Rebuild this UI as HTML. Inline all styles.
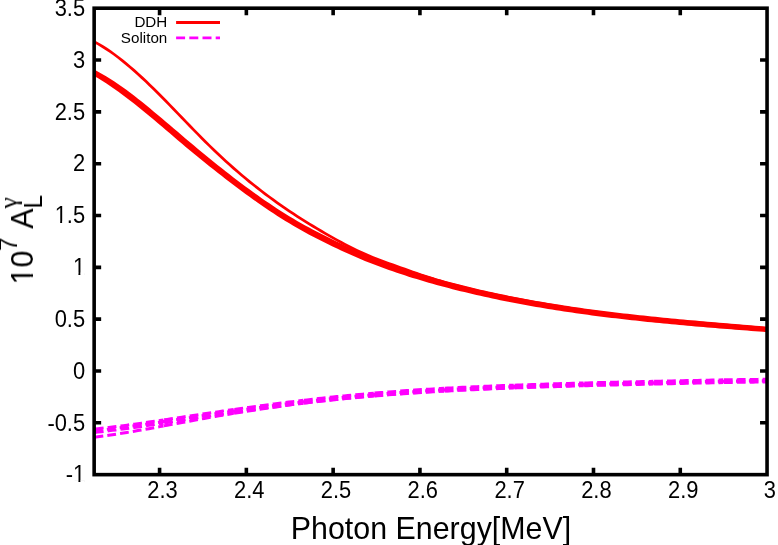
<!DOCTYPE html>
<html><head><meta charset="utf-8"><title>plot</title>
<style>html,body{margin:0;padding:0;background:#fff;}svg{display:block;will-change:transform;}text{font-family:"Liberation Sans",sans-serif;fill:#000;}</style></head><body>
<svg width="778" height="545" viewBox="0 0 778 545">
<rect x="0" y="0" width="778" height="545" fill="#fff"/>
<defs><clipPath id="c"><rect x="94.15" y="8.2" width="672.9" height="466.45"/></clipPath></defs>
<g clip-path="url(#c)" fill="none" stroke-linejoin="round">
<path d="M94.15,41.73 L98.13,43.90 L102.11,46.24 L106.09,48.75 L110.08,51.43 L114.06,54.25 L118.04,57.23 L122.02,60.34 L126.00,63.57 L129.98,66.93 L133.97,70.40 L137.95,73.96 L141.93,77.63 L145.91,81.37 L149.89,85.20 L153.87,89.09 L157.86,93.04 L161.84,97.04 L165.82,101.08 L169.80,105.16 L173.78,109.26 L177.76,113.38 L181.75,117.50 L185.73,121.62 L189.71,125.74 L193.69,129.84 L197.67,133.91 L201.65,137.94 L205.64,141.94 L209.62,145.88 L213.60,149.75 L217.58,153.56 L221.56,157.30 L225.54,160.97 L229.53,164.57 L233.51,168.10 L237.49,171.57 L241.47,174.97 L245.45,178.30 L249.43,181.57 L253.42,184.78 L257.40,187.93 L261.38,191.02 L265.36,194.05 L269.34,197.02 L273.32,199.93 L277.31,202.79 L281.29,205.60 L285.27,208.36 L289.25,211.06 L293.23,213.71 L297.21,216.32 L301.20,218.87 L305.18,221.39 L309.16,223.86 L313.14,226.29 L317.12,228.68 L321.10,231.03 L325.09,233.35 L329.07,235.64 L333.05,237.89 L337.03,240.11 L341.01,242.29 L344.99,244.42 L348.98,246.50 L352.96,248.51 L356.94,250.44 L360.92,252.30 L364.90,254.07 L368.88,255.77 L372.87,257.40 L376.85,258.98 L380.83,260.50 L384.81,261.99 L388.79,263.44 L392.77,264.87 L396.76,266.29 L400.74,267.70 L404.72,269.12 L408.70,270.53 L412.68,271.93 L416.66,273.32 L420.65,274.69 L424.63,276.05 L428.61,277.38 L432.59,278.67 L436.57,279.94 L440.55,281.16 L444.54,282.35 L448.52,283.49 L452.50,284.60 L456.48,285.67 L460.46,286.70 L464.44,287.71 L468.43,288.69 L472.41,289.64 L476.39,290.56 L480.37,291.47 L484.35,292.35 L488.33,293.22 L492.32,294.07 L496.30,294.91 L500.28,295.73 L504.26,296.54 L508.24,297.34 L512.22,298.12 L516.21,298.90 L520.19,299.66 L524.17,300.40 L528.15,301.14 L532.13,301.86 L536.11,302.57 L540.10,303.27 L544.08,303.96 L548.06,304.64 L552.04,305.31 L556.02,305.96 L560.00,306.61 L563.99,307.25 L567.97,307.87 L571.95,308.49 L575.93,309.09 L579.91,309.69 L583.89,310.27 L587.88,310.85 L591.86,311.42 L595.84,311.98 L599.82,312.53 L603.80,313.07 L607.78,313.60 L611.77,314.12 L615.75,314.64 L619.73,315.14 L623.71,315.64 L627.69,316.13 L631.67,316.61 L635.66,317.08 L639.64,317.55 L643.62,318.01 L647.60,318.46 L651.58,318.90 L655.56,319.34 L659.55,319.77 L663.53,320.19 L667.51,320.61 L671.49,321.02 L675.47,321.42 L679.45,321.81 L683.44,322.20 L687.42,322.59 L691.40,322.96 L695.38,323.33 L699.36,323.70 L703.34,324.06 L707.33,324.41 L711.31,324.76 L715.29,325.10 L719.27,325.44 L723.25,325.77 L727.23,326.10 L731.22,326.42 L735.20,326.74 L739.18,327.05 L743.16,327.36 L747.14,327.66 L751.12,327.96 L755.11,328.26 L759.09,328.55 L763.07,328.84 L767.05,329.13" stroke="#ff0000" stroke-width="2.75"/>
<path d="M94.15,69.60 L98.13,71.69 L102.11,73.91 L106.09,76.25 L110.08,78.70 L114.06,81.25 L118.04,83.90 L122.02,86.63 L126.00,89.48 L129.98,92.47 L133.97,95.53 L137.95,98.66 L141.93,101.84 L145.91,105.07 L149.89,108.34 L153.87,111.65 L157.86,114.99 L161.84,118.35 L165.82,121.72 L169.80,125.11 L173.78,128.49 L177.76,131.87 L181.75,135.26 L185.73,138.65 L189.71,142.02 L193.69,145.36 L197.67,148.69 L201.65,151.99 L205.64,155.26 L209.62,158.51 L213.60,161.74 L217.58,164.93 L221.56,168.10 L225.54,171.24 L229.53,174.34 L233.51,177.42 L237.49,180.46 L241.47,183.46 L245.45,186.43 L249.43,189.37 L253.42,192.25 L257.40,195.10 L261.38,197.90 L265.36,200.66 L269.34,203.37 L273.32,206.03 L277.31,208.65 L281.29,211.21 L285.27,213.71 L289.25,216.16 L293.23,218.55 L297.21,220.88 L301.20,223.16 L305.18,225.39 L309.16,227.57 L313.14,229.70 L317.12,231.79 L321.10,233.84 L325.09,235.85 L329.07,237.83 L333.05,239.77 L337.03,241.69 L341.01,243.57 L344.99,245.41 L348.98,247.23 L352.96,249.00 L356.94,250.74 L360.92,252.44 L364.90,254.10 L368.88,255.72 L372.87,257.31 L376.85,258.86 L380.83,260.38 L384.81,261.86 L388.79,263.31 L392.77,264.72 L396.76,266.11 L400.74,267.46 L404.72,268.79 L408.70,270.09 L412.68,271.36 L416.66,272.61 L420.65,273.83 L424.63,275.02 L428.61,276.20 L432.59,277.35 L436.57,278.48 L440.55,279.58 L444.54,280.67 L448.52,281.74 L452.50,282.80 L456.48,283.83 L460.46,284.84 L464.44,285.84 L468.43,286.82 L472.41,287.78 L476.39,288.72 L480.37,289.65 L484.35,290.56 L488.33,291.45 L492.32,292.33 L496.30,293.19 L500.28,294.03 L504.26,294.85 L508.24,295.66 L512.22,296.45 L516.21,297.23 L520.19,297.99 L524.17,298.74 L528.15,299.47 L532.13,300.19 L536.11,300.90 L540.10,301.59 L544.08,302.27 L548.06,302.93 L552.04,303.59 L556.02,304.23 L560.00,304.85 L563.99,305.47 L567.97,306.07 L571.95,306.67 L575.93,307.25 L579.91,307.82 L583.89,308.38 L587.88,308.93 L591.86,309.47 L595.84,309.99 L599.82,310.51 L603.80,311.02 L607.78,311.52 L611.77,312.01 L615.75,312.49 L619.73,312.96 L623.71,313.42 L627.69,313.87 L631.67,314.32 L635.66,314.76 L639.64,315.19 L643.62,315.62 L647.60,316.03 L651.58,316.44 L655.56,316.85 L659.55,317.25 L663.53,317.64 L667.51,318.03 L671.49,318.41 L675.47,318.78 L679.45,319.16 L683.44,319.52 L687.42,319.88 L691.40,320.24 L695.38,320.59 L699.36,320.94 L703.34,321.30 L707.33,321.65 L711.31,321.99 L715.29,322.34 L719.27,322.68 L723.25,323.02 L727.23,323.36 L731.22,323.69 L735.20,324.03 L739.18,324.36 L743.16,324.69 L747.14,325.02 L751.12,325.35 L755.11,325.68 L759.09,326.01 L763.07,326.34 L767.05,326.67 L767.05,332.18 L763.07,331.87 L759.09,331.55 L755.11,331.24 L751.12,330.93 L747.14,330.61 L743.16,330.30 L739.18,329.99 L735.20,329.67 L731.22,329.36 L727.23,329.04 L723.25,328.72 L719.27,328.40 L715.29,328.07 L711.31,327.74 L707.33,327.41 L703.34,327.08 L699.36,326.75 L695.38,326.40 L691.40,326.05 L687.42,325.70 L683.44,325.34 L679.45,324.98 L675.47,324.61 L671.49,324.24 L667.51,323.86 L663.53,323.48 L659.55,323.09 L655.56,322.69 L651.58,322.29 L647.60,321.89 L643.62,321.47 L639.64,321.05 L635.66,320.62 L631.67,320.19 L627.69,319.75 L623.71,319.30 L619.73,318.84 L615.75,318.37 L611.77,317.89 L607.78,317.41 L603.80,316.92 L599.82,316.41 L595.84,315.90 L591.86,315.38 L587.88,314.85 L583.89,314.31 L579.91,313.76 L575.93,313.20 L571.95,312.62 L567.97,312.04 L563.99,311.44 L560.00,310.83 L556.02,310.21 L552.04,309.58 L548.06,308.94 L544.08,308.28 L540.10,307.61 L536.11,306.92 L532.13,306.23 L528.15,305.52 L524.17,304.79 L520.19,304.05 L516.21,303.30 L512.22,302.53 L508.24,301.74 L504.26,300.95 L500.28,300.13 L496.30,299.31 L492.32,298.47 L488.33,297.61 L484.35,296.74 L480.37,295.85 L476.39,294.94 L472.41,294.02 L468.43,293.08 L464.44,292.12 L460.46,291.14 L456.48,290.15 L452.50,289.13 L448.52,288.10 L444.54,287.05 L440.55,285.98 L436.57,284.89 L432.59,283.78 L428.61,282.65 L424.63,281.50 L420.65,280.32 L416.66,279.12 L412.68,277.90 L408.70,276.65 L404.72,275.37 L400.74,274.06 L396.76,272.72 L392.77,271.36 L388.79,269.96 L384.81,268.53 L380.83,267.07 L376.85,265.58 L372.87,264.05 L368.88,262.48 L364.90,260.88 L360.92,259.24 L356.94,257.56 L352.96,255.84 L348.98,254.09 L344.99,252.30 L341.01,250.48 L337.03,248.62 L333.05,246.73 L329.07,244.81 L325.09,242.85 L321.10,240.86 L317.12,238.84 L313.14,236.77 L309.16,234.66 L305.18,232.50 L301.20,230.30 L297.21,228.04 L293.23,225.73 L289.25,223.36 L285.27,220.93 L281.29,218.45 L277.31,215.91 L273.32,213.32 L269.34,210.67 L265.36,207.98 L261.38,205.24 L257.40,202.46 L253.42,199.64 L249.43,196.78 L245.45,193.89 L241.47,190.97 L237.49,188.02 L233.51,185.03 L229.53,182.00 L225.54,178.95 L221.56,175.86 L217.58,172.75 L213.60,169.61 L209.62,166.43 L205.64,163.23 L201.65,160.01 L197.67,156.76 L193.69,153.49 L189.71,150.19 L185.73,146.88 L181.75,143.54 L177.76,140.16 L173.78,136.76 L169.80,133.35 L165.82,129.94 L161.84,126.55 L157.86,123.16 L153.87,119.80 L149.89,116.47 L145.91,113.18 L141.93,109.93 L137.95,106.73 L133.97,103.58 L129.98,100.50 L126.00,97.48 L122.02,94.48 L118.04,91.54 L114.06,88.68 L110.08,85.93 L106.09,83.27 L102.11,80.73 L98.13,78.31 L94.15,76.01Z" fill="#ff0000" stroke="none"/>
<path d="M94.15,429.11 L97.80,428.72 L101.45,428.31 L105.10,427.89 L108.75,427.47 L112.40,427.02 L116.05,426.57 L119.70,426.11 L123.35,425.64 L127.00,425.15 L130.65,424.66 L134.30,424.17 L137.95,423.66 L141.60,423.15 L145.25,422.63 L148.90,422.10 L152.55,421.57 L156.20,421.04 L159.85,420.50 L163.50,419.96 M163.50,419.96 L167.19,419.40 L170.89,418.85 L174.58,418.29 L178.28,417.73 L181.97,417.17 L185.67,416.60 L189.36,416.04 L193.06,415.47 L196.75,414.91 L200.45,414.35 L204.14,413.80 L207.84,413.25 L211.53,412.70 L215.23,412.16 L218.92,411.62 L222.62,411.08 L226.31,410.54 L230.01,410.00 L233.70,409.47 M233.70,409.47 L237.36,408.95 L241.03,408.43 L244.69,407.91 L248.35,407.40 L252.02,406.89 L255.68,406.38 L259.34,405.88 L263.01,405.39 L266.67,404.90 L270.33,404.42 L273.99,403.94 L277.66,403.46 L281.32,402.99 L284.98,402.53 L288.65,402.07 L292.31,401.62 L295.97,401.18 L299.64,400.74 L303.30,400.30 M303.30,400.30 L307.01,399.87 L310.72,399.44 L314.43,399.01 L318.14,398.60 L321.85,398.19 L325.56,397.78 L329.27,397.39 L332.98,397.00 L336.69,396.61 L340.41,396.24 L344.12,395.87 L347.83,395.51 L351.54,395.15 L355.25,394.80 L358.96,394.46 L362.67,394.12 L366.38,393.79 L370.09,393.47 L373.80,393.15 M373.80,393.15 L377.49,392.84 L381.19,392.54 L384.88,392.24 L388.58,391.95 L392.27,391.67 L395.97,391.39 L399.66,391.12 L403.36,390.85 L407.05,390.59 L410.75,390.34 L414.44,390.09 L418.14,389.85 L421.83,389.61 L425.53,389.38 L429.22,389.15 L432.92,388.93 L436.61,388.72 L440.31,388.50 L444.00,388.30 M444.00,388.30 L447.67,388.10 L451.35,387.90 L455.02,387.71 L458.69,387.53 L462.37,387.34 L466.04,387.17 L469.72,386.99 L473.39,386.82 L477.06,386.65 L480.74,386.49 L484.41,386.33 L488.08,386.18 L491.76,386.03 L495.43,385.88 L499.11,385.73 L502.78,385.59 L506.45,385.45 L510.13,385.31 L513.80,385.18 M513.80,385.18 L517.47,385.05 L521.15,384.92 L524.82,384.79 L528.49,384.66 L532.17,384.54 L535.84,384.42 L539.52,384.30 L543.19,384.18 L546.86,384.07 L550.54,383.95 L554.21,383.84 L557.88,383.73 L561.56,383.62 L565.23,383.51 L568.91,383.40 L572.58,383.30 L576.25,383.19 L579.93,383.09 L583.60,382.98 M583.60,382.98 L587.27,382.88 L590.95,382.78 L594.62,382.68 L598.29,382.57 L601.97,382.48 L605.64,382.39 L609.32,382.31 L612.99,382.22 L616.66,382.14 L620.34,382.06 L624.01,381.97 L627.68,381.89 L631.36,381.80 L635.03,381.72 L638.71,381.64 L642.38,381.56 L646.05,381.47 L649.73,381.39 L653.40,381.31 M653.40,381.31 L657.07,381.23 L660.75,381.15 L664.42,381.07 L668.09,380.99 L671.77,380.91 L675.44,380.83 L679.12,380.75 L682.79,380.68 L686.46,380.60 L690.14,380.53 L693.81,380.45 L697.48,380.38 L701.16,380.31 L704.83,380.23 L708.51,380.15 L712.18,380.08 L715.85,380.00 L719.53,379.93 L723.20,379.86 M723.20,379.86 L725.51,379.82 L727.82,379.78 L730.12,379.74 L732.43,379.70 L734.74,379.67 L737.05,379.63 L739.36,379.60 L741.66,379.56 L743.97,379.53 L746.28,379.50 L748.59,379.47 L750.89,379.45 L753.20,379.42 L755.51,379.40 L757.82,379.38 L760.13,379.36 L762.43,379.34 L764.74,379.33 L767.05,379.31" stroke="#ff00ff" stroke-width="3" stroke-dasharray="8.8 4.1" stroke-dashoffset="-0.7"/>
<path d="M94.15,430.81 L97.80,430.41 L101.45,430.00 L105.10,429.58 L108.75,429.15 L112.40,428.70 L116.05,428.25 L119.70,427.78 L123.35,427.30 L127.00,426.81 L130.65,426.32 L134.30,425.82 L137.95,425.31 L141.60,424.79 L145.25,424.27 L148.90,423.74 L152.55,423.20 L156.20,422.66 L159.85,422.12 L163.50,421.57 M163.50,421.57 L167.19,421.01 L170.89,420.45 L174.58,419.89 L178.28,419.33 L181.97,418.76 L185.67,418.19 L189.36,417.62 L193.06,417.05 L196.75,416.49 L200.45,415.92 L204.14,415.36 L207.84,414.81 L211.53,414.26 L215.23,413.71 L218.92,413.16 L222.62,412.62 L226.31,412.08 L230.01,411.54 L233.70,411.00 M233.70,411.00 L237.36,410.47 L241.03,409.95 L244.69,409.43 L248.35,408.91 L252.02,408.40 L255.68,407.89 L259.34,407.38 L263.01,406.88 L266.67,406.39 L270.33,405.90 L273.99,405.42 L277.66,404.94 L281.32,404.47 L284.98,404.00 L288.65,403.54 L292.31,403.08 L295.97,402.63 L299.64,402.19 L303.30,401.75 M303.30,401.75 L307.01,401.32 L310.72,400.89 L314.43,400.46 L318.14,400.04 L321.85,399.63 L325.56,399.23 L329.27,398.83 L332.98,398.44 L336.69,398.06 L340.41,397.68 L344.12,397.31 L347.83,396.95 L351.54,396.59 L355.25,396.24 L358.96,395.89 L362.67,395.56 L366.38,395.23 L370.09,394.90 L373.80,394.58 M373.80,394.58 L377.49,394.27 L381.19,393.97 L384.88,393.67 L388.58,393.38 L392.27,393.10 L395.97,392.82 L399.66,392.55 L403.36,392.28 L407.05,392.02 L410.75,391.76 L414.44,391.52 L418.14,391.27 L421.83,391.03 L425.53,390.80 L429.22,390.57 L432.92,390.35 L436.61,390.14 L440.31,389.92 L444.00,389.72 M444.00,389.72 L447.67,389.52 L451.35,389.32 L455.02,389.13 L458.69,388.94 L462.37,388.76 L466.04,388.58 L469.72,388.40 L473.39,388.23 L477.06,388.07 L480.74,387.90 L484.41,387.74 L488.08,387.59 L491.76,387.44 L495.43,387.29 L499.11,387.14 L502.78,387.00 L506.45,386.86 L510.13,386.72 L513.80,386.58 M513.80,386.58 L517.47,386.45 L521.15,386.32 L524.82,386.19 L528.49,386.07 L532.17,385.94 L535.84,385.82 L539.52,385.70 L543.19,385.58 L546.86,385.47 L550.54,385.35 L554.21,385.24 L557.88,385.13 L561.56,385.01 L565.23,384.91 L568.91,384.80 L572.58,384.69 L576.25,384.58 L579.93,384.48 L583.60,384.37 M583.60,384.37 L587.27,384.27 L590.95,384.16 L594.62,384.06 L598.29,383.96 L601.97,383.87 L605.64,383.78 L609.32,383.69 L612.99,383.61 L616.66,383.52 L620.34,383.44 L624.01,383.35 L627.68,383.27 L631.36,383.18 L635.03,383.10 L638.71,383.02 L642.38,382.93 L646.05,382.85 L649.73,382.77 L653.40,382.68 M653.40,382.68 L657.07,382.60 L660.75,382.52 L664.42,382.44 L668.09,382.36 L671.77,382.28 L675.44,382.20 L679.12,382.12 L682.79,382.04 L686.46,381.97 L690.14,381.89 L693.81,381.82 L697.48,381.74 L701.16,381.67 L704.83,381.59 L708.51,381.51 L712.18,381.44 L715.85,381.36 L719.53,381.29 L723.20,381.22 M723.20,381.22 L725.51,381.18 L727.82,381.14 L730.12,381.10 L732.43,381.06 L734.74,381.02 L737.05,380.99 L739.36,380.95 L741.66,380.92 L743.97,380.89 L746.28,380.86 L748.59,380.83 L750.89,380.80 L753.20,380.78 L755.51,380.75 L757.82,380.73 L760.13,380.71 L762.43,380.69 L764.74,380.68 L767.05,380.66" stroke="#ff00ff" stroke-width="3" stroke-dasharray="8.8 4.1" stroke-dashoffset="0.1"/>
<path d="M94.15,432.51 L97.80,432.11 L101.45,431.69 L105.10,431.27 L108.75,430.83 L112.40,430.38 L116.05,429.92 L119.70,429.45 L123.35,428.97 L127.00,428.47 L130.65,427.98 L134.30,427.47 L137.95,426.95 L141.60,426.43 L145.25,425.90 L148.90,425.37 L152.55,424.83 L156.20,424.29 L159.85,423.74 L163.50,423.19 M163.50,423.19 L167.19,422.62 L170.89,422.06 L174.58,421.49 L178.28,420.92 L181.97,420.35 L185.67,419.78 L189.36,419.21 L193.06,418.63 L196.75,418.06 L200.45,417.49 L204.14,416.93 L207.84,416.37 L211.53,415.82 L215.23,415.26 L218.92,414.71 L222.62,414.16 L226.31,413.62 L230.01,413.07 L233.70,412.53 M233.70,412.53 L237.36,412.00 L241.03,411.47 L244.69,410.94 L248.35,410.42 L252.02,409.90 L255.68,409.39 L259.34,408.88 L263.01,408.38 L266.67,407.88 L270.33,407.39 L273.99,406.90 L277.66,406.42 L281.32,405.94 L284.98,405.47 L288.65,405.00 L292.31,404.54 L295.97,404.09 L299.64,403.64 L303.30,403.20 M303.30,403.20 L307.01,402.76 L310.72,402.33 L314.43,401.91 L318.14,401.49 L321.85,401.08 L325.56,400.67 L329.27,400.28 L332.98,399.88 L336.69,399.50 L340.41,399.12 L344.12,398.75 L347.83,398.38 L351.54,398.03 L355.25,397.68 L358.96,397.33 L362.67,396.99 L366.38,396.66 L370.09,396.34 L373.80,396.02 M373.80,396.02 L377.49,395.71 L381.19,395.40 L384.88,395.11 L388.58,394.81 L392.27,394.53 L395.97,394.25 L399.66,393.98 L403.36,393.71 L407.05,393.45 L410.75,393.19 L414.44,392.94 L418.14,392.70 L421.83,392.46 L425.53,392.23 L429.22,392.00 L432.92,391.77 L436.61,391.56 L440.31,391.34 L444.00,391.14 M444.00,391.14 L447.67,390.94 L451.35,390.74 L455.02,390.55 L458.69,390.36 L462.37,390.17 L466.04,389.99 L469.72,389.82 L473.39,389.65 L477.06,389.48 L480.74,389.32 L484.41,389.15 L488.08,389.00 L491.76,388.84 L495.43,388.69 L499.11,388.55 L502.78,388.40 L506.45,388.26 L510.13,388.12 L513.80,387.99 M513.80,387.99 L517.47,387.85 L521.15,387.72 L524.82,387.59 L528.49,387.47 L532.17,387.34 L535.84,387.22 L539.52,387.10 L543.19,386.98 L546.86,386.86 L550.54,386.75 L554.21,386.63 L557.88,386.52 L561.56,386.41 L565.23,386.30 L568.91,386.19 L572.58,386.08 L576.25,385.97 L579.93,385.87 L583.60,385.76 M583.60,385.76 L587.27,385.66 L590.95,385.55 L594.62,385.45 L598.29,385.35 L601.97,385.25 L605.64,385.16 L609.32,385.08 L612.99,384.99 L616.66,384.90 L620.34,384.82 L624.01,384.73 L627.68,384.65 L631.36,384.56 L635.03,384.48 L638.71,384.39 L642.38,384.31 L646.05,384.22 L649.73,384.14 L653.40,384.06 M653.40,384.06 L657.07,383.98 L660.75,383.89 L664.42,383.81 L668.09,383.73 L671.77,383.65 L675.44,383.57 L679.12,383.49 L682.79,383.41 L686.46,383.33 L690.14,383.26 L693.81,383.18 L697.48,383.11 L701.16,383.03 L704.83,382.95 L708.51,382.88 L712.18,382.80 L715.85,382.72 L719.53,382.65 L723.20,382.58 M723.20,382.58 L725.51,382.54 L727.82,382.50 L730.12,382.46 L732.43,382.42 L734.74,382.38 L737.05,382.34 L739.36,382.31 L741.66,382.28 L743.97,382.24 L746.28,382.21 L748.59,382.18 L750.89,382.16 L753.20,382.13 L755.51,382.11 L757.82,382.08 L760.13,382.06 L762.43,382.04 L764.74,382.03 L767.05,382.01" stroke="#ff00ff" stroke-width="3" stroke-dasharray="8.8 4.1" stroke-dashoffset="-0.7"/>
<path d="M94.15,437.30 L97.80,436.81 L101.45,436.30 L105.10,435.77 L108.75,435.24 L112.40,434.69 L116.05,434.14 L119.70,433.57 L123.35,432.99 L127.00,432.40 L130.65,431.81 L134.30,431.20 L137.95,430.59 L141.60,429.97 L145.25,429.31 L148.90,428.65 L152.55,427.99 L156.20,427.32 L159.85,426.64 L163.50,425.96 M163.50,425.96 L167.19,425.27 L170.89,424.58 L174.58,423.88 L178.28,423.19 L181.97,422.50 L185.67,421.83 L189.36,421.16 L193.06,420.49 L196.75,419.82 L200.45,419.15 L204.14,418.49 L207.84,417.83 L211.53,417.18 L215.23,416.53 L218.92,415.87 L222.62,415.23 L226.31,414.58 L230.01,413.94 L233.70,413.35 M233.70,413.35 L237.36,412.77 L241.03,412.19 L244.69,411.62 L248.35,411.05 L252.02,410.48 L255.68,409.92 L259.34,409.36 L263.01,408.81 L266.67,408.27 L270.33,407.73 L273.99,407.19 L277.66,406.66 L281.32,406.13 L284.98,405.61 L288.65,405.10 L292.31,404.59 L295.97,404.09 L299.64,403.60 L303.30,403.15 M303.30,403.15 L307.01,402.70 L310.72,402.26 L314.43,401.83 L318.14,401.41 L321.85,400.99 L325.56,400.58 L329.27,400.18 L332.98,399.78 L336.69,399.39 L340.41,399.00 L344.12,398.62 L347.83,398.25 L351.54,397.89 L355.25,397.53 L358.96,397.18 L362.67,396.84 L366.38,396.50 L370.09,396.17 L373.80,395.84 M373.80,395.84 L377.49,395.52 L381.19,395.21 L384.88,394.91 L388.58,394.61 L392.27,394.32 L395.97,394.03 L399.66,393.76 L403.36,393.48 L407.05,393.21 L410.75,392.95 L414.44,392.70 L418.14,392.45 L421.83,392.20 L425.53,391.96 L429.22,391.73 L432.92,391.50 L436.61,391.27 L440.31,391.05 L444.00,390.84 M444.00,390.84 L447.67,390.63 L451.35,390.43 L455.02,390.23 L458.69,390.04 L462.37,389.85 L466.04,389.66 L469.72,389.48 L473.39,389.30 L477.06,389.13 L480.74,388.96 L484.41,388.79 L488.08,388.63 L491.76,388.47 L495.43,388.31 L499.11,388.16 L502.78,388.01 L506.45,387.86 L510.13,387.71 L513.80,387.57 M513.80,387.57 L517.47,387.43 L521.15,387.29 L524.82,387.16 L528.49,387.03 L532.17,386.90 L535.84,386.77 L539.52,386.64 L543.19,386.51 L546.86,386.39 L550.54,386.27 L554.21,386.15 L557.88,386.03 L561.56,385.91 L565.23,385.80 L568.91,385.68 L572.58,385.57 L576.25,385.45 L579.93,385.34 L583.60,385.23 M583.60,385.23 L587.27,385.12 L590.95,385.01 L594.62,384.90 L598.29,384.79 L601.97,384.69 L605.64,384.59 L609.32,384.50 L612.99,384.41 L616.66,384.31 L620.34,384.22 L624.01,384.13 L627.68,384.04 L631.36,383.95 L635.03,383.85 L638.71,383.76 L642.38,383.67 L646.05,383.58 L649.73,383.49 L653.40,383.40 M653.40,383.40 L657.07,383.32 L660.75,383.23 L664.42,383.14 L668.09,383.05 L671.77,382.96 L675.44,382.88 L679.12,382.79 L682.79,382.71 L686.46,382.62 L690.14,382.54 L693.81,382.46 L697.48,382.38 L701.16,382.30 L704.83,382.21 L708.51,382.13 L712.18,382.04 L715.85,381.96 L719.53,381.89 L723.20,381.81 M723.20,381.81 L725.51,381.76 L727.82,381.72 L730.12,381.67 L732.43,381.63 L734.74,381.59 L737.05,381.55 L739.36,381.51 L741.66,381.47 L743.97,381.43 L746.28,381.40 L748.59,381.37 L750.89,381.33 L753.20,381.30 L755.51,381.28 L757.82,381.25 L760.13,381.23 L762.43,381.20 L764.74,381.18 L767.05,381.17" stroke="#ff00ff" stroke-width="3" stroke-dasharray="8.8 4.1" stroke-dashoffset="-0.4"/>
</g>
<path d="M159.58,474.65 V467.65 M159.58,8.2 V15.2 M246.36,474.65 V467.65 M246.36,8.2 V15.2 M333.14,474.65 V467.65 M333.14,8.2 V15.2 M419.93,474.65 V467.65 M419.93,8.2 V15.2 M506.71,474.65 V467.65 M506.71,8.2 V15.2 M593.49,474.65 V467.65 M593.49,8.2 V15.2 M680.27,474.65 V467.65 M680.27,8.2 V15.2 M94.15,422.82 H101.15 M767.05,422.82 H760.05 M94.15,370.99 H101.15 M767.05,370.99 H760.05 M94.15,319.17 H101.15 M767.05,319.17 H760.05 M94.15,267.34 H101.15 M767.05,267.34 H760.05 M94.15,215.51 H101.15 M767.05,215.51 H760.05 M94.15,163.68 H101.15 M767.05,163.68 H760.05 M94.15,111.86 H101.15 M767.05,111.86 H760.05 M94.15,60.03 H101.15 M767.05,60.03 H760.05" stroke="#000" stroke-width="3.6" fill="none"/>
<rect x="94.15" y="8.2" width="672.90" height="466.45" fill="none" stroke="#000" stroke-width="3.6"/>
<defs><filter id="g" filterUnits="userSpaceOnUse" x="0" y="0" width="778" height="545" color-interpolation-filters="sRGB"><feOffset dx="0" dy="0"/></filter></defs>
<g filter="url(#g)">
<text transform="translate(85.10,482.40) scale(1,1.07)" font-size="21.9" text-anchor="end">-1</text>
<rect x="73.99" y="480.05" width="4.44" height="3.15" fill="#fff"/><rect x="80.36" y="480.05" width="4.27" height="3.15" fill="#fff"/>
<text transform="translate(85.10,430.57) scale(1,1.07)" font-size="21.9" text-anchor="end">-0.5</text>
<text transform="translate(85.10,378.74) scale(1,1.07)" font-size="21.9" text-anchor="end">0</text>
<text transform="translate(85.10,326.92) scale(1,1.07)" font-size="21.9" text-anchor="end">0.5</text>
<text transform="translate(85.10,275.09) scale(1,1.07)" font-size="21.9" text-anchor="end">1</text>
<rect x="73.99" y="272.74" width="4.44" height="3.15" fill="#fff"/><rect x="80.36" y="272.74" width="4.27" height="3.15" fill="#fff"/>
<text transform="translate(85.10,223.26) scale(1,1.07)" font-size="21.9" text-anchor="end">1.5</text>
<rect x="55.72" y="220.91" width="4.44" height="3.15" fill="#fff"/><rect x="62.10" y="220.91" width="4.27" height="3.15" fill="#fff"/>
<text transform="translate(85.10,171.43) scale(1,1.07)" font-size="21.9" text-anchor="end">2</text>
<text transform="translate(85.10,119.61) scale(1,1.07)" font-size="21.9" text-anchor="end">2.5</text>
<text transform="translate(85.10,67.78) scale(1,1.07)" font-size="21.9" text-anchor="end">3</text>
<text transform="translate(85.10,15.95) scale(1,1.07)" font-size="21.9" text-anchor="end">3.5</text>
<text transform="translate(162.48,497.70) scale(1,1.07)" font-size="21.9" text-anchor="middle">2.3</text>
<text transform="translate(249.26,497.70) scale(1,1.07)" font-size="21.9" text-anchor="middle">2.4</text>
<text transform="translate(336.04,497.70) scale(1,1.07)" font-size="21.9" text-anchor="middle">2.5</text>
<text transform="translate(422.83,497.70) scale(1,1.07)" font-size="21.9" text-anchor="middle">2.6</text>
<text transform="translate(509.61,497.70) scale(1,1.07)" font-size="21.9" text-anchor="middle">2.7</text>
<text transform="translate(596.39,497.70) scale(1,1.07)" font-size="21.9" text-anchor="middle">2.8</text>
<text transform="translate(683.17,497.70) scale(1,1.07)" font-size="21.9" text-anchor="middle">2.9</text>
<text transform="translate(769.95,497.70) scale(1,1.07)" font-size="21.9" text-anchor="middle">3</text>
<text transform="translate(431.00,538.60) scale(1,1.025)" font-size="30.4" text-anchor="middle">Photon Energy[MeV]</text>
<g transform="translate(33,284.5) rotate(-90)"><text transform="translate(0.00,0.00) scale(1,1.05)" font-size="30.4" text-anchor="start">10</text><rect x="1.72" y="-2.98" width="5.93" height="3.78" fill="#fff"/><rect x="10.33" y="-2.98" width="5.69" height="3.78" fill="#fff"/><text transform="translate(33.50,-15.60) scale(1,1.05)" font-size="24.3" text-anchor="start">7</text><text transform="translate(55.80,0.00) scale(1,1.05)" font-size="30.4" text-anchor="start">A</text><text transform="translate(76.00,8.50) scale(1,1.05)" font-size="24.3" text-anchor="start">L</text><text transform="translate(76.0,-16) scale(1.05,1)" font-size="24.2" style="font-family:'Liberation Serif',serif">γ</text></g>
<text transform="translate(167.30,26.90) scale(1,1.0)" font-size="15.2" text-anchor="end">DDH</text>
<text transform="translate(167.30,42.50) scale(1,1.0)" font-size="15.2" text-anchor="end">Soliton</text>
</g>
<path d="M176.1,22.5 H220" stroke="#ff0000" stroke-width="3" fill="none"/>
<path d="M176.1,37.8 H220" stroke="#ff00ff" stroke-width="2.7" stroke-dasharray="9 4.2" fill="none"/>
</svg></body></html>
